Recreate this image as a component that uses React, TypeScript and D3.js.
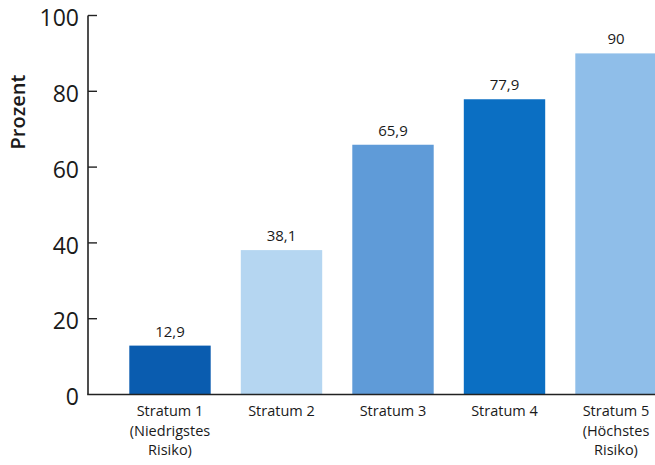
import React from "react";
import * as d3 from "d3";

const categories = ["Stratum 1", "Stratum 2", "Stratum 3", "Stratum 4", "Stratum 5"];
const subLabels = [["(Niedrigstes", "Risiko)"], [], [], [], ["(Höchstes", "Risiko)"]];
const values = [12.9, 38.1, 65.9, 77.9, 90];
const valueLabels = ["12,9", "38,1", "65,9", "77,9", "90"];
const colors = ["#0a5caf", "#b5d6f1", "#5f9bd8", "#0b6fc3", "#8fbee9"];
const yTicks = [0, 20, 40, 60, 80, 100];

const W = 655;
const H = 465;
const font = "'Open Sans', 'Noto Sans', sans-serif";

export default function App() {
  const axisX = 88;
  const y = d3.scaleLinear().domain([0, 100]).range([394.5, 15.5]);
  const x = d3
    .scaleBand<string>()
    .domain(categories)
    .range([114.25, 671.75])
    .paddingInner(0.27)
    .paddingOuter(0.135);

  return (
    <svg
      width={W}
      height={H}
      style={{ position: "absolute", left: 0, top: 0, background: "#fff" }}
      fontFamily={font}
    >
      <rect x={0} y={0} width={W} height={H} fill="#fff" />
      {categories.map((c, i) => (
        <rect
          key={c}
          x={x(c)}
          y={y(values[i])}
          width={x.bandwidth()}
          height={y(0) - y(values[i])}
          fill={colors[i]}
        />
      ))}
      {/* axes */}
      <line x1={axisX} x2={axisX} y1={y(100)} y2={y(0)} stroke="#222" strokeWidth={1.6} />
      <line x1={axisX - 0.8} x2={W} y1={y(0)} y2={y(0)} stroke="#222" strokeWidth={1.6} />
      {yTicks.map((t) => (
        <g key={t}>
          {t > 0 && (
            <line x1={axisX} x2={axisX + 9} y1={y(t)} y2={y(t)} stroke="#222" strokeWidth={1.4} />
          )}
          <text
            x={79}
            y={y(t) + 2.5}
            dy="0.36em"
            textAnchor="end"
            fontSize={23}
            fill="#1a1a1a"
          >
            {t}
          </text>
        </g>
      ))}
      <text
        transform={`translate(25,${112}) rotate(-90)`}
        textAnchor="middle"
        fontSize={20}
        fontWeight={600}
        fill="#1a1a1a"
      >
        Prozent
      </text>
      {categories.map((c, i) => {
        const cx = (x(c) as number) + x.bandwidth() / 2;
        return (
          <g key={"l" + c}>
            <text x={cx} y={y(values[i]) - 9} textAnchor="middle" fontSize={15} fill="#1a1a1a">
              {valueLabels[i]}
            </text>
            <text x={cx} y={416} textAnchor="middle" fontSize={14.5} fill="#1a1a1a">
              {c}
            </text>
            {subLabels[i].map((s, j) => (
              <text key={j} x={cx} y={435.5 + j * 19.5} textAnchor="middle" fontSize={14.5} fill="#1a1a1a">
                {s}
              </text>
            ))}
          </g>
        );
      })}
    </svg>
  );
}
